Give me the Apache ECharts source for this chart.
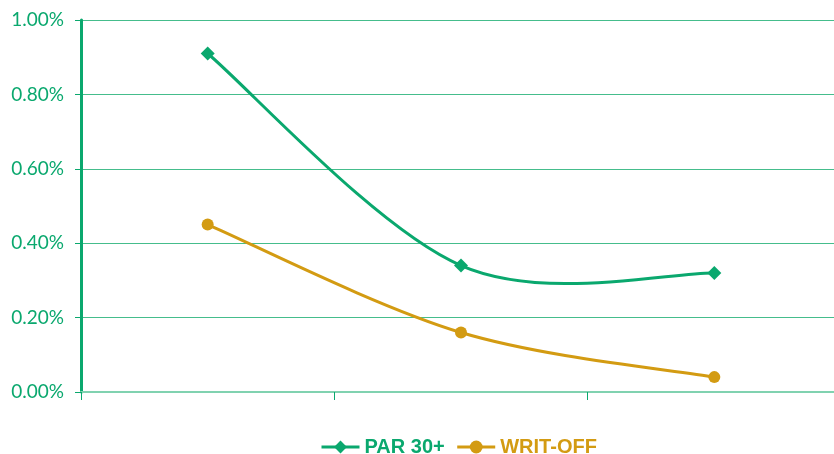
<!DOCTYPE html>
<html>
<head>
<meta charset="utf-8">
<script src="https://cdn.jsdelivr.net/npm/echarts@6/dist/echarts.min.js"></script>
<style>
  html, body { margin: 0; padding: 0; background: #fff; overflow: hidden; }
  /* plot area runs slightly past the right edge of the view */
  #chart { width: 841px; height: 454px; }
</style>
</head>
<body>
<div id="chart"></div>
<script>
// Portfolio quality ratios over three periods
const categories = ['1', '2', '3'];
const par30 = [0.91, 0.34, 0.32];
const writeOff = [0.45, 0.16, 0.04];
const yTicks = [0, 0.2, 0.4, 0.6, 0.8, 1.0];

const GREEN = '#0aa86e';
const GOLD = '#d39b12';

// Spreadsheet-style smoothed line: cubic Bezier segments with
// Catmull-Rom control points (tension 1/6), projected through the axes.
function smoothCurve(values, color) {
  return function (params, api) {
    if (params.dataIndex !== 0) return null;
    const pts = values.map((v, i) => api.coord([i, v]));
    const n = pts.length;
    const children = [];
    for (let i = 0; i < n - 1; i++) {
      const p0 = pts[Math.max(i - 1, 0)];
      const p1 = pts[i];
      const p2 = pts[i + 1];
      const p3 = pts[Math.min(i + 2, n - 1)];
      children.push({
        type: 'bezierCurve',
        shape: {
          x1: p1[0], y1: p1[1],
          cpx1: p1[0] + (p2[0] - p0[0]) / 6, cpy1: p1[1] + (p2[1] - p0[1]) / 6,
          cpx2: p2[0] - (p3[0] - p1[0]) / 6, cpy2: p2[1] - (p3[1] - p1[1]) / 6,
          x2: p2[0], y2: p2[1]
        },
        style: { fill: null, stroke: color, lineWidth: 3, lineCap: 'round' }
      });
    }
    return { type: 'group', children };
  };
}

const chart = echarts.init(document.getElementById('chart'));
chart.setOption({
  animation: false,
  grid: { left: 81, right: 0, top: 20, bottom: 62 },
  legend: {
    top: 432,
    left: 315,
    itemWidth: 38,
    itemHeight: 16,
    itemGap: 11,
    textStyle: { fontFamily: 'Liberation Sans', fontWeight: 'bold', fontSize: 20 },
    data: [
      { name: 'PAR 30+', textStyle: { color: GREEN }, lineStyle: { color: GREEN, width: 3, opacity: 1 } },
      { name: 'WRIT-OFF', textStyle: { color: GOLD }, lineStyle: { color: GOLD, width: 3, opacity: 1 } }
    ]
  },
  xAxis: {
    type: 'category',
    data: categories,
    boundaryGap: true,
    axisLine: { lineStyle: { color: '#80d2b0', width: 2 } },
    axisTick: { show: true, length: 8, lineStyle: { color: GREEN, width: 1 } },
    axisLabel: { show: false }
  },
  yAxis: {
    type: 'value',
    min: 0,
    max: 1.0,
    interval: 0.2,
    axisLine: { show: true, lineStyle: { color: GREEN, width: 3 } },
    axisTick: { show: true, length: 6, lineStyle: { color: GREEN, width: 1 } },
    splitLine: { lineStyle: { color: '#45bd8c', width: 1 } },
    axisLabel: {
      color: GREEN,
      fontFamily: 'Lato',
      fontSize: 19,
      margin: 17,
      formatter: v => yTicks.includes(Math.round(v * 100) / 100) ? v.toFixed(2) + '%' : ''
    }
  },
  series: [
    {
      name: 'PAR 30+',
      type: 'line',
      data: par30,
      z: 3,
      symbol: 'diamond',
      symbolSize: 14,
      itemStyle: { color: GREEN },
      lineStyle: { color: GREEN, width: 3, opacity: 0 }
    },
    {
      name: 'PAR 30+',
      type: 'custom',
      z: 2,
      data: par30.map((v, i) => [i, v]),
      renderItem: smoothCurve(par30, GREEN)
    },
    {
      name: 'WRIT-OFF',
      type: 'line',
      data: writeOff,
      z: 3,
      symbol: 'circle',
      symbolSize: 12,
      itemStyle: { color: GOLD },
      lineStyle: { color: GOLD, width: 3, opacity: 0 }
    },
    {
      name: 'WRIT-OFF',
      type: 'custom',
      z: 2,
      data: writeOff.map((v, i) => [i, v]),
      renderItem: smoothCurve(writeOff, GOLD)
    }
  ]
});
</script>
</body>
</html>
